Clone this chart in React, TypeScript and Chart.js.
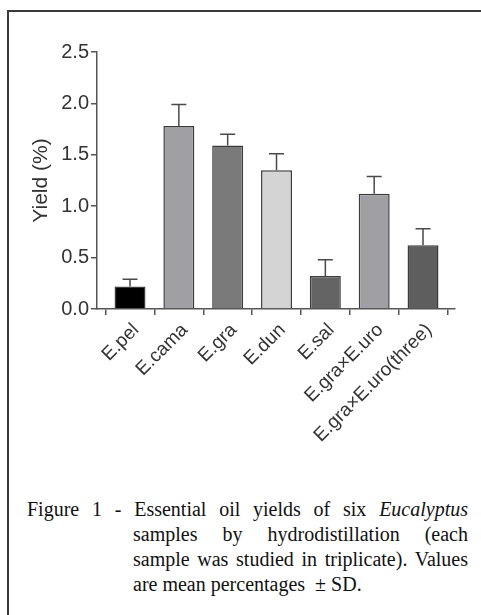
import React, { useEffect, useRef } from "react";
import { Chart, registerables } from "chart.js";

Chart.register(...registerables);

const categories = ["E.pel", "E.cama", "E.gra", "E.dun", "E.sal", "E.gra×E.uro", "E.gra×E.uro(three)"];
const means = [0.22, 1.78, 1.59, 1.35, 0.32, 1.12, 0.62];
const sds = [0.07, 0.21, 0.11, 0.16, 0.16, 0.17, 0.16];
const barColors = ["#000000", "#a0a0a4", "#7a7a7a", "#d4d4d4", "#646464", "#a0a0a4", "#5e5e5e"];
const yTicks = [0, 0.5, 1.0, 1.5, 2.0, 2.5];
const yTitle = "Yield (%)";

const CANVAS_W = 481;
const CANVAS_H = 480;
const AXIS_LEFT = 97;
const AXIS_BOTTOM = 309;

const errorBars = {
  id: "errorBars",
  afterDatasetsDraw(chart: any) {
    const { ctx } = chart;
    const meta = chart.getDatasetMeta(0);
    const y = chart.scales.y;
    ctx.save();
    ctx.strokeStyle = "#4a4a4a";
    ctx.lineWidth = 1.5;
    meta.data.forEach((bar: any, i: number) => {
      const x = bar.x;
      const yb = y.getPixelForValue(means[i]);
      const yt = y.getPixelForValue(means[i] + sds[i]);
      ctx.beginPath();
      ctx.moveTo(x, yb);
      ctx.lineTo(x, yt);
      ctx.moveTo(x - 7.5, yt);
      ctx.lineTo(x + 7.5, yt);
      ctx.stroke();
    });
    ctx.restore();
  },
};

export default function App() {
  const ref = useRef<HTMLCanvasElement>(null);
  useEffect(() => {
    if (!ref.current) return;
    const chart = new Chart(ref.current, {
      type: "bar",
      data: {
        datasets: [
          {
            data: categories.map((_, i) => ({ x: i, y: means[i] })),
            backgroundColor: barColors,
            borderColor: "#3c3c3c",
            borderWidth: 1.5,
            categoryPercentage: 1,
            barPercentage: 0.634,
          },
        ],
      },
      options: {
        animation: false,
        responsive: false,
        maintainAspectRatio: false,
        layout: { padding: { top: 52, right: 26, left: 0, bottom: 0 } },
        plugins: { legend: { display: false }, tooltip: { enabled: false } },
        scales: {
          x: {
            type: "linear",
            min: -0.676,
            max: 6.655,
            offset: false,
            grid: { display: true, drawOnChartArea: false, drawTicks: true, tickLength: 6, color: "#555", lineWidth: 1.5 },
            border: { display: true, color: "#555", width: 1.5 },
            ticks: {
              stepSize: 1,
              includeBounds: false,
              autoSkip: false,
              maxRotation: 45,
              minRotation: 45,
              padding: 4,
              labelOffset: 6,
              color: "#333",
              font: { family: "'Liberation Sans', Arial, sans-serif", size: 19 },
              callback: (v: any) => (Number.isInteger(v) && categories[v] !== undefined ? categories[v] : ""),
            },
            afterFit: (s: any) => {
              s.height = CANVAS_H - AXIS_BOTTOM;
            },
          },
          y: {
            min: 0,
            max: 2.5,
            grid: { display: true, drawOnChartArea: false, drawTicks: true, tickLength: 6, color: "#555", lineWidth: 1.5 },
            border: { display: true, color: "#555", width: 1.5 },
            afterBuildTicks: (s: any) => {
              s.ticks = yTicks.map((v) => ({ value: v }));
            },
            ticks: {
              padding: 2,
              color: "#333",
              font: { family: "'Liberation Sans', Arial, sans-serif", size: 20 },
              callback: (v: any) => Number(v).toFixed(1),
            },
            title: {
              display: true,
              text: yTitle,
              color: "#333",
              padding: { top: 29, bottom: 0 },
              font: { family: "'Liberation Sans', Arial, sans-serif", size: 21 },
            },
            afterFit: (s: any) => {
              s.width = AXIS_LEFT;
            },
          },
        },
      },
      plugins: [errorBars],
    });
    return () => chart.destroy();
  }, []);

  const serif = "'Liberation Serif', 'Times New Roman', serif";
  const lineStyle: React.CSSProperties = {
    position: "absolute",
    whiteSpace: "nowrap",
    textAlign: "justify",
    textAlignLast: "justify" as any,
    fontFamily: serif,
    fontSize: 20,
    lineHeight: "25px",
    color: "#111",
  };

  return (
    <div style={{ position: "fixed", left: 0, top: 0, width: 481, height: 615, overflow: "hidden", background: "#fff" }}>
      <div
        style={{
          position: "absolute",
          left: 7,
          top: 10,
          width: 600,
          height: 700,
          borderTop: "2px solid #3a3a3a",
          borderLeft: "2px solid #3a3a3a",
        }}
      />
      <canvas ref={ref} width={CANVAS_W} height={CANVAS_H} style={{ position: "absolute", left: 0, top: 0, width: CANVAS_W, height: CANVAS_H }} />
      <div style={{ ...lineStyle, left: 27, top: 497, width: 441 }}>
        Figure 1 - Essential oil yields of six <i>Eucalyptus</i>
      </div>
      <div style={{ ...lineStyle, left: 133, top: 522, width: 335 }}>samples by hydrodistillation (each</div>
      <div style={{ ...lineStyle, left: 133, top: 547, width: 335 }}>sample was studied in triplicate). Values</div>
      <div style={{ ...lineStyle, left: 133, top: 572, textAlign: "left", textAlignLast: "left" as any }}>
        are mean percentages&nbsp; ± SD.
      </div>
    </div>
  );
}
